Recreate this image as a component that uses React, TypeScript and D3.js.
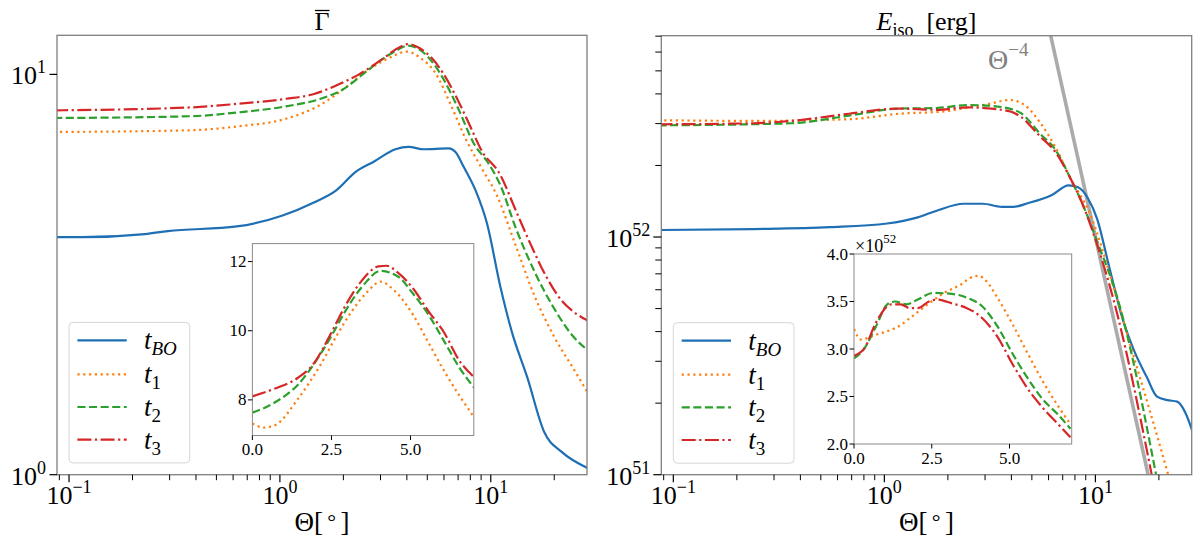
import * as d3 from 'd3'

const FONT = "'Liberation Serif', 'DejaVu Serif', serif"

const subs = ['BO', '1', '2', '3']
const colors = ['#1f6fb5', '#ff7f0e', '#2ca02c', '#d62728']
const dashes = ['', '2.2,3.6', '8.1,3.5', '14,3.5,2.2,3.5']

// left panel: mean Lorentz factor (log-log)
const gBOTheta = [0.085, 0.115, 0.229, 0.294, 0.624, 1.03, 1.44, 1.85, 2.28, 2.8, 3.53, 4.08, 4.82, 6.32, 6.8, 7.47, 8.47, 9.6, 11.1, 12.6, 14.9, 17.9, 21.7, 28.7]
const gBO = [3.92, 3.92, 3.99, 4.06, 4.17, 4.44, 4.78, 5.13, 5.7, 6.06, 6.5, 6.59, 6.5, 6.53, 6.4, 5.85, 5.13, 4.24, 2.95, 2.27, 1.75, 1.28, 1.14, 1.04]
const g1Theta = [0.085, 0.378, 0.624, 1.07, 1.56, 2.01, 2.58, 3.31, 4.0, 4.63, 5.47, 6.46, 7.63, 9.02, 10.7, 13.1, 16.2, 19.9, 24.5, 28.7]
const g1 = [7.18, 7.25, 7.41, 7.75, 8.4, 9.2, 10.2, 11.0, 11.4, 11.0, 10.07, 8.4, 6.87, 5.85, 4.98, 3.75, 2.78, 2.22, 1.85, 1.61]
const g2Theta = [0.085, 0.378, 0.624, 1.07, 1.56, 2.01, 2.47, 3.05, 3.6, 4.05, 4.63, 5.24, 5.94, 7.02, 8.3, 9.8, 11.1, 13.1, 16.2, 19.9, 24.5, 28.7]
const g2 = [7.78, 7.86, 8.03, 8.32, 8.69, 9.2, 10.0, 10.9, 11.5, 11.8, 11.5, 10.8, 9.77, 8.2, 6.73, 5.97, 5.29, 4.15, 3.2, 2.61, 2.22, 2.05]
const g3Theta = [0.085, 0.378, 0.624, 1.07, 1.44, 1.85, 2.37, 3.05, 3.6, 4.05, 4.63, 5.24, 5.94, 7.02, 7.96, 9.02, 11.1, 13.1, 15.5, 18.3, 21.7, 24.5, 28.7]
const g3 = [8.13, 8.27, 8.44, 8.69, 8.92, 9.38, 10.0, 10.9, 11.6, 11.9, 11.6, 11.0, 10.07, 8.57, 7.45, 6.47, 5.61, 4.59, 3.75, 3.13, 2.72, 2.56, 2.43]

// left inset (linear)
const gi1Theta = [0, 0.35, 0.716, 1.44, 2.17, 2.66, 3.14, 3.63, 4.05, 4.48, 5.08, 5.57, 6.06, 6.54, 7.03]
const gi1 = [7.32, 7.2, 7.27, 8.03, 9.04, 9.85, 10.56, 11.12, 11.42, 11.17, 10.46, 9.65, 8.84, 8.13, 7.47]
const gi2Theta = [0, 0.716, 1.44, 2.17, 2.5, 2.9, 3.51, 4.05, 4.6, 5.08, 5.57, 6.06, 6.54, 7.03]
const gi2 = [7.63, 7.93, 8.44, 9.35, 9.85, 10.51, 11.32, 11.73, 11.57, 11.07, 10.46, 9.7, 8.94, 8.33]
const gi3Theta = [0, 0.716, 1.44, 1.93, 2.5, 2.9, 3.39, 3.99, 4.24, 4.6, 5.08, 5.57, 6.06, 6.54, 7.03]
const gi3 = [8.1, 8.33, 8.64, 9.04, 9.95, 10.66, 11.37, 11.86, 11.88, 11.68, 11.22, 10.56, 9.95, 9.14, 8.64]

// right panel: E_iso in units of 1e52 erg (log-log)
const eBOTheta = [0.085, 0.239, 0.551, 1.03, 1.44, 1.77, 2.37, 2.92, 3.6, 4.08, 4.82, 6.19, 7.47, 8.28, 9.2, 10.2, 11.6, 13.5, 15.2, 17.5, 19.6, 21.9, 24.4, 26.8, 28.7]
const eBO = [1.07, 1.08, 1.1, 1.14, 1.21, 1.29, 1.38, 1.38, 1.34, 1.34, 1.39, 1.5, 1.65, 1.62, 1.46, 1.19, 0.755, 0.448, 0.335, 0.258, 0.213, 0.206, 0.203, 0.181, 0.154]
const e1Theta = [0.085, 0.239, 0.679, 1.17, 1.93, 2.47, 3.18, 3.92, 4.62, 5.47, 6.46, 7.63, 9.4, 12.7, 15.1, 18.3, 22.5]
const e1 = [3.1, 3.08, 3.13, 3.3, 3.38, 3.5, 3.64, 3.77, 3.59, 3.03, 2.39, 1.76, 1.26, 0.543, 0.32, 0.18, 0.095]
const e2Theta = [0.085, 0.363, 0.679, 1.17, 1.77, 2.47, 2.92, 3.92, 4.44, 5.47, 6.46, 7.63, 8.65, 10.2, 12.8, 19.6]
const e2 = [2.95, 3.01, 3.24, 3.47, 3.49, 3.59, 3.58, 3.47, 3.32, 2.72, 2.33, 1.76, 1.39, 0.957, 0.543, 0.095]
const e3Theta = [0.085, 0.239, 0.363, 0.679, 1.17, 1.77, 2.47, 2.92, 3.92, 4.44, 5.47, 6.46, 7.63, 8.65, 10.2, 12.2, 18.7]
const e3 = [2.98, 3.01, 3.08, 3.3, 3.47, 3.43, 3.51, 3.49, 3.38, 3.2, 2.65, 2.28, 1.76, 1.39, 0.926, 0.543, 0.095]

// right inset (linear, x1e52)
const ei1Theta = [0, 0.22, 0.71, 1.44, 1.93, 2.41, 2.9, 3.39, 3.82, 4.0, 4.24, 4.61, 5.1, 5.59, 6.07, 6.56, 6.96]
const ei1 = [3.21, 3.1, 3.15, 3.24, 3.36, 3.48, 3.59, 3.67, 3.76, 3.77, 3.72, 3.54, 3.26, 2.95, 2.66, 2.4, 2.21]
const ei2Theta = [0, 0.34, 0.71, 1.07, 1.32, 1.68, 2.05, 2.54, 3.15, 3.63, 4.12, 4.61, 5.1, 5.59, 6.07, 6.56, 6.96]
const ei2 = [2.9, 3.01, 3.24, 3.47, 3.5, 3.47, 3.52, 3.59, 3.58, 3.54, 3.45, 3.24, 2.95, 2.69, 2.47, 2.31, 2.16]
const ei3Theta = [0, 0.34, 0.71, 1.2, 1.5, 1.8, 2.05, 2.41, 2.66, 3.15, 3.63, 4.0, 4.61, 5.1, 5.59, 6.07, 6.56, 6.96]
const ei3 = [2.93, 3.01, 3.28, 3.47, 3.47, 3.43, 3.43, 3.5, 3.52, 3.48, 3.43, 3.36, 3.13, 2.84, 2.58, 2.38, 2.21, 2.07]

// Theta^-4 guide, anchored at (10 deg, 1e52 erg)
const guideTheta = [5, 20]
const guideSlope = -4

const mainXTicks = [0.1, 1, 10]
const mainXLabels = ['\u22121', '0', '1']
const leftInsetYTicks = [8, 10, 12]
const rightInsetYTicks = [2.0, 2.5, 3.0, 3.5, 4.0]
const insetXTicks = [0, 2.5, 5.0]

type Sc = (v: number) => number

function path(th: number[], v: number[], x: Sc, y: Sc) {
  return d3.line<number>().x(i => x(th[i])).y(i => y(v[i])).curve(d3.curveMonotoneX)(d3.range(th.length)) || ''
}

function Curve({ d, k, clip }: { d: string; k: number; clip: string }) {
  return (
    <path d={d} fill="none" stroke={colors[k]} strokeWidth={2.2}
      strokeDasharray={dashes[k] || undefined} clipPath={`url(#${clip})`} />
  )
}

function Pow({ x, y, exp, anchor }: { x: number; y: number; exp: string; anchor: string }) {
  return (
    <text x={x} y={y} textAnchor={anchor} fontSize={26} fontFamily={FONT}>
      10<tspan dy={-11} fontSize={18}>{exp}</tspan>
    </text>
  )
}

function XAxis({ x, y1 }: { x: d3.ScaleLogarithmic<number, number>; y1: number }) {
  const [lo, hi] = x.domain()
  const minors: number[] = []
  for (const dec of [0.01, 0.1, 1, 10]) for (let k = 2; k <= 9; k++) {
    const v = k * dec
    if (v >= lo && v <= hi) minors.push(v)
  }
  return (
    <g>
      {minors.map(v => <line key={v} x1={x(v)} x2={x(v)} y1={y1} y2={y1 + 5.5} stroke="#000" strokeWidth={1} />)}
      {mainXTicks.map((v, i) => (
        <g key={v}>
          <line x1={x(v)} x2={x(v)} y1={y1} y2={y1 + 7.5} stroke="#000" strokeWidth={1.2} />
          <Pow x={x(v)} y={503.5} exp={mainXLabels[i]} anchor="middle" />
        </g>
      ))}
      <text x={(x.range()[0] + x.range()[1]) / 2} y={531} textAnchor="middle" fontSize={27} fontFamily={FONT}>
        Θ[<tspan fontSize={22} dy={-2}>{'\u2009°\u2009'}</tspan><tspan dy={2}>]</tspan>
      </text>
    </g>
  )
}

function Legend({ x, y }: { x: number; y: number }) {
  const rows = [18, 52, 84.6, 117.3]
  return (
    <g>
      <rect x={x} y={y} width={120.7} height={140.5} rx={4} fill="#fff" fillOpacity={0.85} stroke="#d6d6d6" strokeWidth={1} />
      {subs.map((s, k) => (
        <g key={s}>
          <line x1={x + 8.4} x2={x + 57.7} y1={y + rows[k]} y2={y + rows[k]} stroke={colors[k]} strokeWidth={2.2}
            strokeDasharray={dashes[k] || undefined} />
          <text x={x + 75} y={y + rows[k] + 9} fontSize={27} fontFamily={FONT}>
            <tspan fontStyle="italic">t</tspan>
            <tspan dy={6} fontSize={19} fontStyle={k === 0 ? 'italic' : 'normal'}>{s}</tspan>
          </text>
        </g>
      ))}
    </g>
  )
}

function Inset({ id, x0, x1, y0, y1, yDom, yTicks, yFmt, series }: {
  id: string; x0: number; x1: number; y0: number; y1: number; yDom: [number, number]
  yTicks: number[]; yFmt: (v: number) => string; series: [number[], number[], number][]
}) {
  const x = d3.scaleLinear().domain([0, 7.0]).range([x0, x1])
  const y = d3.scaleLinear().domain(yDom).range([y1, y0])
  return (
    <g>
      <clipPath id={id}><rect x={x0} y={y0} width={x1 - x0} height={y1 - y0} /></clipPath>
      <rect x={x0} y={y0} width={x1 - x0} height={y1 - y0} fill="#fff" />
      {series.map(([th, v, k]) => <Curve key={k} d={path(th, v, x, y)} k={k} clip={id} />)}
      <rect x={x0} y={y0} width={x1 - x0} height={y1 - y0} fill="none" stroke="#8a8a8a" strokeWidth={1} />
      {yTicks.map(v => (
        <g key={v}>
          <line x1={x0 - 4.5} x2={x0} y1={y(v)} y2={y(v)} stroke="#000" strokeWidth={1} />
          <text x={x0 - 6} y={y(v) + 5.5} textAnchor="end" fontSize={17} fontFamily={FONT}>{yFmt(v)}</text>
        </g>
      ))}
      {insetXTicks.map(v => (
        <g key={v}>
          <line x1={x(v)} x2={x(v)} y1={y1} y2={y1 + 4.5} stroke="#000" strokeWidth={1} />
          <text x={x(v)} y={y1 + 19.5} textAnchor="middle" fontSize={17} fontFamily={FONT}>{v.toFixed(1)}</text>
        </g>
      ))}
    </g>
  )
}

export default function App() {
  const L = { x0: 57, x1: 587, y0: 35.3, y1: 474.7 }
  const R = { x0: 661.3, x1: 1191.7, y0: 35.7, y1: 474.7 }
  const xL = d3.scaleLog().domain([0.0877, 28.6]).range([L.x0, L.x1])
  const xR = d3.scaleLog().domain([0.0877, 28.6]).range([R.x0, R.x1])
  const yL = d3.scaleLog().domain([1, 12.52]).range([L.y1, L.y0])
  const yR = d3.scaleLog().domain([0.1, 7.03]).range([R.y1, R.y0])

  const rMinor: number[] = []
  for (const dec of [0.1, 1]) for (let k = 2; k <= 9; k++) if (k * dec <= 7.03) rMinor.push(k * dec)

  const guideE = guideTheta.map(t => Math.pow(t / 10, guideSlope))

  return (
    <svg width={1200} height={549} style={{ position: 'absolute', left: 0, top: 0, background: '#fff' }}>
      <defs>
        <clipPath id="cL"><rect x={L.x0} y={L.y0} width={L.x1 - L.x0} height={L.y1 - L.y0} /></clipPath>
        <clipPath id="cR"><rect x={R.x0} y={R.y0} width={R.x1 - R.x0} height={R.y1 - R.y0} /></clipPath>
      </defs>

      {/* ---------- left panel ---------- */}
      <text x={(L.x0 + L.x1) / 2} y={30} textAnchor="middle" fontSize={26} fontFamily={FONT}>Γ</text>
      <line x1={315} x2={329.5} y1={10.5} y2={10.5} stroke="#000" strokeWidth={1.3} />
      <Curve d={path(gBOTheta, gBO, xL, yL)} k={0} clip="cL" />
      <Curve d={path(g1Theta, g1, xL, yL)} k={1} clip="cL" />
      <Curve d={path(g2Theta, g2, xL, yL)} k={2} clip="cL" />
      <Curve d={path(g3Theta, g3, xL, yL)} k={3} clip="cL" />
      <rect x={L.x0} y={L.y0} width={L.x1 - L.x0} height={L.y1 - L.y0} fill="none" stroke="#7f7f7f" strokeWidth={1.3} />
      {[1, 10].map((v, i) => (
        <g key={v}>
          <line x1={L.x0 - 7.5} x2={L.x0} y1={yL(v)} y2={yL(v)} stroke="#000" strokeWidth={1.2} />
          <Pow x={L.x0 - 11} y={yL(v) + 10} exp={String(i)} anchor="end" />
        </g>
      ))}
      <XAxis x={xL} y1={L.y1} />
      <Inset id="iL" x0={252.4} x1={473.8} y0={243.6} y1={435.5} yDom={[6.97, 12.52]}
        yTicks={leftInsetYTicks} yFmt={v => String(v)}
        series={[[gi1Theta, gi1, 1], [gi2Theta, gi2, 2], [gi3Theta, gi3, 3]]} />
      <Legend x={69} y={322.4} />

      {/* ---------- right panel ---------- */}
      <text x={(R.x0 + R.x1) / 2} y={30} textAnchor="middle" fontSize={26} fontFamily={FONT}>
        <tspan fontStyle="italic">E</tspan><tspan dy={6} fontSize={18}>iso</tspan><tspan dy={-6}>{'\u2002[erg]'}</tspan>
      </text>
      <path d={d3.line<number>().x(i => xR(guideTheta[i])).y(i => yR(guideE[i]))([0, 1]) || ''}
        stroke="#ababab" strokeWidth={3.6} fill="none" clipPath="url(#cR)" />
      <Curve d={path(eBOTheta, eBO, xR, yR)} k={0} clip="cR" />
      <Curve d={path(e1Theta, e1, xR, yR)} k={1} clip="cR" />
      <Curve d={path(e2Theta, e2, xR, yR)} k={2} clip="cR" />
      <Curve d={path(e3Theta, e3, xR, yR)} k={3} clip="cR" />
      <text x={988} y={69} fontSize={28} fontFamily={FONT} fill="#808080">
        Θ<tspan dy={-13} fontSize={19}>{'\u22124'}</tspan>
      </text>
      <rect x={R.x0} y={R.y0} width={R.x1 - R.x0} height={R.y1 - R.y0} fill="none" stroke="#7f7f7f" strokeWidth={1.3} />
      {rMinor.map(v => <line key={v} x1={R.x0 - 6} x2={R.x0} y1={yR(v)} y2={yR(v)} stroke="#000" strokeWidth={1} />)}
      {[0.1, 1].map((v, i) => (
        <g key={v}>
          <line x1={R.x0 - 8} x2={R.x0} y1={yR(v)} y2={yR(v)} stroke="#000" strokeWidth={1.2} />
          <Pow x={R.x0 - 11} y={yR(v) + 10} exp={String(51 + i)} anchor="end" />
        </g>
      ))}
      <XAxis x={xR} y1={R.y1} />
      <Inset id="iR" x0={854} x1={1071.7} y0={254} y1={444} yDom={[2.0, 4.0]}
        yTicks={rightInsetYTicks} yFmt={v => v.toFixed(1)}
        series={[[ei1Theta, ei1, 1], [ei2Theta, ei2, 2], [ei3Theta, ei3, 3]]} />
      <text x={855} y={251.5} fontSize={18} fontFamily={FONT}>
        ×10<tspan dy={-9} fontSize={13}>52</tspan>
      </text>
      <Legend x={673.3} y={322.7} />
    </svg>
  )
}
